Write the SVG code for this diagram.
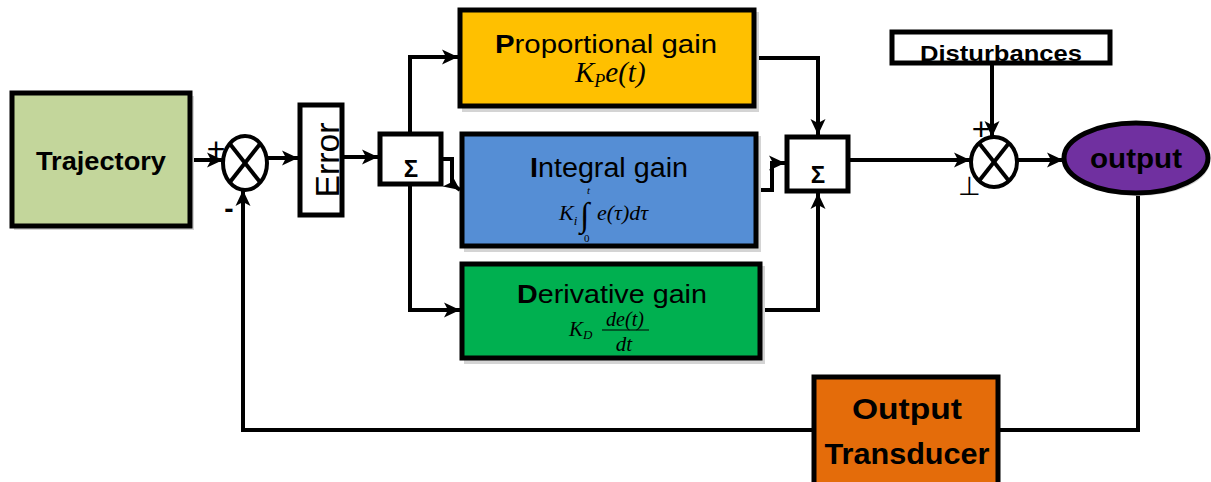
<svg xmlns="http://www.w3.org/2000/svg" width="1211" height="482" viewBox="0 0 1211 482">
<defs>
<style>
.box{stroke:#000;stroke-width:5}
.sh{fill:#d4d4d4}
.ln{fill:none;stroke:#000;stroke-width:4}
.lbl{font-family:"Liberation Sans",Arial,sans-serif;fill:#000}
.b{font-weight:bold}
.m{font-family:"Liberation Serif","Times New Roman",serif;font-style:italic;fill:#000}
</style>
<marker id="ah" markerUnits="userSpaceOnUse" markerWidth="18" markerHeight="18" viewBox="0 0 18 18" refX="17" refY="9" orient="auto">
<path d="M1,1.5 L17,9 L1,16.5 L5,9 z" fill="#000"/>
</marker>
</defs>

<g id="connectors">
<line class="ln" x1="190" y1="160" x2="223" y2="160" marker-end="url(#ah)"/>
<line class="ln" x1="268" y1="158" x2="298" y2="158" marker-end="url(#ah)"/>
<line class="ln" x1="343" y1="157" x2="378" y2="157" marker-end="url(#ah)"/>
<path class="ln" d="M410,132 V57 H458" marker-end="url(#ah)"/>
<path class="ln" d="M410,186 V310 H460" marker-end="url(#ah)"/>
<path class="ln" d="M443,159 H452 V184 L460,190" marker-end="url(#ah)"/>
<path class="ln" d="M755,58 H818 V135" marker-end="url(#ah)"/>
<path class="ln" d="M762,310 H818 V193" marker-end="url(#ah)"/>
<path class="ln" d="M758,190 H772 V163 H785" marker-end="url(#ah)"/>
<line class="ln" x1="850" y1="160" x2="970" y2="160" marker-end="url(#ah)"/>
<line class="ln" x1="992" y1="65" x2="992" y2="137" marker-end="url(#ah)"/>
<line class="ln" x1="1018" y1="160" x2="1063" y2="160" marker-end="url(#ah)"/>
<path class="ln" d="M1138,194 V430 H1000"/>
<path class="ln" d="M812,430 H243 V190" marker-end="url(#ah)"/>
</g>

<g id="trajectory">
<rect class="sh" x="14" y="96" width="180" height="134"/>
<rect class="box" x="12" y="93" width="178" height="133" fill="#c3d69b"/>
<text class="lbl b" x="101" y="170" font-size="26" text-anchor="middle" textLength="130" lengthAdjust="spacingAndGlyphs">Trajectory</text>
</g>

<g id="junction1">
<ellipse cx="245" cy="163" rx="22" ry="27" fill="#fff" stroke="#000" stroke-width="4"/>
<line x1="230" y1="144" x2="260" y2="182" stroke="#000" stroke-width="4"/>
<line x1="260" y1="144" x2="230" y2="182" stroke="#000" stroke-width="4"/>
<text class="lbl" x="216" y="160" font-size="32" text-anchor="middle">+</text>
<text class="lbl b" x="229" y="218" font-size="28" text-anchor="middle">-</text>
</g>

<g id="error">
<rect class="box" x="300" y="105" width="42" height="110" fill="#fff"/>
<text class="lbl" transform="translate(339,160) rotate(-90)" font-size="34" text-anchor="middle" textLength="75" lengthAdjust="spacingAndGlyphs">Error</text>
</g>

<g id="sum1">
<rect class="box" x="380" y="134" width="61" height="50" fill="#fff"/>
<text class="lbl b" x="411" y="177" font-size="24" text-anchor="middle">Σ</text>
</g>

<g id="proportional">
<rect class="sh" x="462" y="12" width="297" height="100"/>
<rect class="box" x="460" y="10" width="294" height="96" fill="#ffc000"/>
<text class="lbl" x="606" y="53" font-size="26" text-anchor="middle" textLength="222" lengthAdjust="spacingAndGlyphs"><tspan class="b">P</tspan>roportional gain</text>
<text class="m" x="575" y="82" font-size="29">K<tspan font-size="18" dy="5">P</tspan><tspan dy="-5">e(t)</tspan></text>
</g>

<g id="integral">
<rect class="sh" x="464" y="136" width="297" height="116"/>
<rect class="box" x="462" y="134" width="294" height="112" fill="#558ed5"/>
<text class="lbl" x="609" y="177" font-size="27" text-anchor="middle" textLength="158" lengthAdjust="spacingAndGlyphs"><tspan class="b">I</tspan>ntegral gain</text>
<text class="m" x="559" y="220" font-size="22">K<tspan font-size="13" dy="5">i</tspan></text>
<text class="m" x="587" y="194" font-size="11">t</text>
<text x="580" y="226" font-size="34" font-family="'Liberation Serif',serif">∫</text>
<text x="584" y="242" font-size="11" font-family="'Liberation Serif',serif">0</text>
<text class="m" x="597" y="220" font-size="22">e(τ)dτ</text>
</g>

<g id="derivative">
<rect class="sh" x="464" y="266" width="301" height="98"/>
<rect class="box" x="462" y="264" width="298" height="94" fill="#00b050"/>
<text class="lbl" x="612" y="303" font-size="26" text-anchor="middle" textLength="190" lengthAdjust="spacingAndGlyphs"><tspan class="b">D</tspan>erivative gain</text>
<text class="m" x="569" y="336" font-size="21">K<tspan font-size="13" dy="3">D</tspan></text>
<text class="m" x="625" y="326" font-size="20" text-anchor="middle">de(t)</text>
<line x1="602" y1="330" x2="649" y2="330" stroke="#000" stroke-width="1.2"/>
<text class="m" x="624" y="351" font-size="21" text-anchor="middle">dt</text>
</g>

<g id="sum2">
<rect class="box" x="787" y="137" width="61" height="54" fill="#fff"/>
<text class="lbl b" x="818" y="183" font-size="24" text-anchor="middle">Σ</text>
</g>

<g id="disturbances">
<rect class="box" x="892" y="32" width="218" height="31" fill="#fff"/>
<text class="lbl b" x="1001" y="61" font-size="22" text-anchor="middle" textLength="162" lengthAdjust="spacingAndGlyphs">Disturbances</text>
</g>

<g id="junction2">
<ellipse cx="994" cy="162" rx="23" ry="25" fill="#fff" stroke="#000" stroke-width="4"/>
<line x1="979" y1="143" x2="1009" y2="181" stroke="#000" stroke-width="4"/>
<line x1="1009" y1="143" x2="979" y2="181" stroke="#000" stroke-width="4"/>
<text class="lbl" x="981" y="140" font-size="32" text-anchor="middle">+</text>
<text class="lbl" x="969" y="195" font-size="26" text-anchor="middle">⊥</text>
</g>

<g id="output">
<ellipse cx="1138" cy="161" rx="72" ry="35" fill="#d4d4d4"/>
<ellipse cx="1136" cy="158" rx="72" ry="35" fill="#7030a0" stroke="#000" stroke-width="5"/>
<text class="lbl b" x="1136" y="168" font-size="27" text-anchor="middle" textLength="92" lengthAdjust="spacingAndGlyphs">output</text>
</g>

<g id="transducer">
<rect class="box" x="814" y="377" width="184" height="110" fill="#e46c0a"/>
<text class="lbl b" x="907" y="419" font-size="30" text-anchor="middle" textLength="110" lengthAdjust="spacingAndGlyphs">Output</text>
<text class="lbl b" x="907" y="464" font-size="30" text-anchor="middle" textLength="165" lengthAdjust="spacingAndGlyphs">Transducer</text>
</g>
</svg>
